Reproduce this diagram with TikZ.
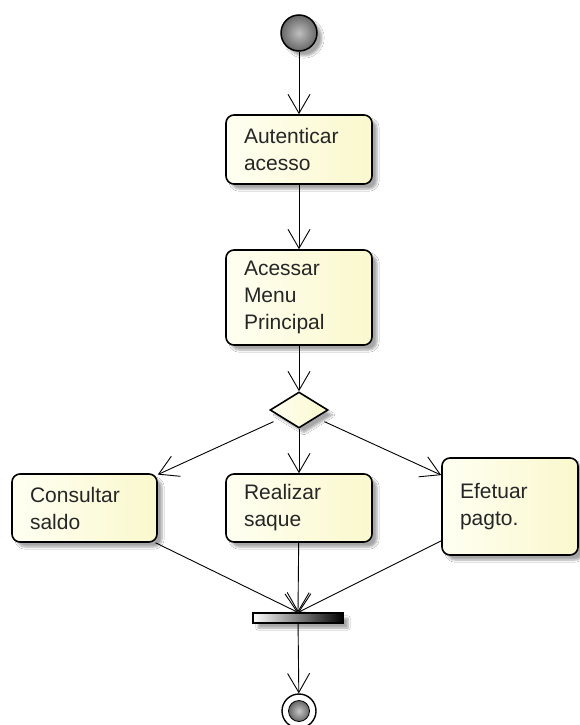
\documentclass[tikz,border=0pt]{standalone}
\usepackage{fontspec}
\setmainfont{Liberation Sans}
\usetikzlibrary{shapes.geometric,arrows.meta,shadows.blur}

\definecolor{actlight}{RGB}{255,255,242}
\definecolor{actdark}{RGB}{250,248,205}

\begin{document}
\begin{tikzpicture}[x=1pt,y=-1pt,
  softshadow/.style={blur shadow={shadow xshift=5pt,shadow yshift=-5pt,shadow blur steps=6,shadow opacity=35}},
  actbox/.style={draw=black,line width=1.6pt,rounded corners=8pt,
    left color=actlight,right color=actdark,softshadow,
    align=left,inner xsep=18pt,inner ysep=0pt,text=black!85,
    font=\fontsize{21}{27}\selectfont},
  flow/.style={draw=black,line width=0.9pt,-{Straight Barb[length=19pt,width=22pt,line width=0.9pt]}},
  decision/.style={diamond,draw=black,line width=1.6pt,inner sep=0pt,
    minimum width=58pt,minimum height=36pt,left color=actlight,right color=actdark,softshadow},
]
\useasboundingbox (0,0) rectangle (579,725);
\fill[white] (0,0) rectangle (579,725);

% initial node
\node[circle,draw=black,line width=1.5pt,minimum size=36pt,inner sep=0pt,
  shading=radial,inner color=gray!50,outer color=gray!80!black,softshadow] (start) at (299,33) {};

% actions
\node[actbox,minimum width=146pt,minimum height=69pt,text width=110pt] (auth) at (299,149.5) {Autenticar\\acesso};
\node[actbox,minimum width=146pt,minimum height=95pt,text width=110pt] (menu) at (299,297.5) {Acessar\\Menu\\Principal};
\node[decision] (dec) at (299,410) {};
\node[actbox,minimum width=145pt,minimum height=68pt,text width=109pt] (saldo) at (84.5,508) {Consultar\\saldo};
\node[actbox,minimum width=146pt,minimum height=68pt,text width=110pt] (saque) at (299,508) {Realizar\\saque};
\node[actbox,minimum width=136pt,minimum height=97pt,text width=100pt] (pagto) at (510,506.5) {Efetuar\\pagto.};

% join bar
\node[rectangle,draw=black,line width=1.2pt,minimum width=90pt,minimum height=10pt,inner sep=0pt,
  left color=white,right color=black,softshadow] (join) at (298,618) {};

% final node
\node[circle,draw=black,line width=1.4pt,fill=white,minimum size=34pt,inner sep=0pt] (final) at (299,711) {};
\node[circle,draw=black,line width=0.8pt,minimum size=21pt,inner sep=0pt,
  shading=radial,inner color=gray!45,outer color=gray!80!black] (finalcore) at (final.center) {};

% control flows
\draw[flow] (start) -- (auth);
\draw[flow] (auth) -- (menu);
\draw[flow] (menu) -- (dec);
\draw[flow,shorten <=9pt] (dec) -- (saldo);
\draw[flow] (dec) -- (saque);
\draw[flow,shorten <=9pt] (dec) -- (pagto);
\draw[flow] (saldo) -- (join.north);
\draw[flow] (saque) -- (join.north);
\draw[flow] (pagto) -- (join.north);
\draw[flow] (join) -- (final);
\end{tikzpicture}
\end{document}
